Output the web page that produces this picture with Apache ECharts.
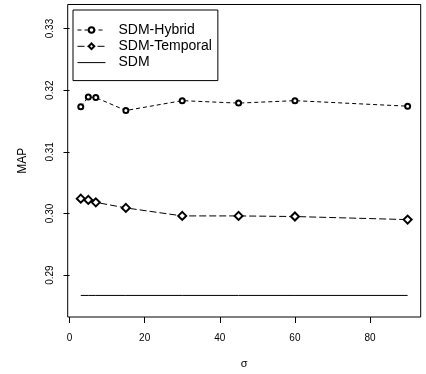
<!DOCTYPE html>
<html>
<head>
<meta charset="utf-8">
<script src="https://cdn.jsdelivr.net/npm/echarts@6/dist/echarts.min.js"></script>
<style>
  html, body { margin: 0; padding: 0; background: #fff; }
  #chart { width: 426px; height: 374px; }
</style>
</head>
<body>
<div id="chart"></div>
<script>
// sigma values (x axis)
const sigma = [3, 5, 7, 15, 30, 45, 60, 90];
// MAP values
const hybrid = [0.3173, 0.3189, 0.3188, 0.3167, 0.3183, 0.3179, 0.3183, 0.3174];
const temporal = [0.3024, 0.3022, 0.3018, 0.3009, 0.2996, 0.2996, 0.2995, 0.2990];
const sdm = [0.2867, 0.2867, 0.2867, 0.2867, 0.2867, 0.2867, 0.2867, 0.2867];
const xTicks = [0, 20, 40, 60, 80];
const yTicks = [0.29, 0.30, 0.31, 0.32, 0.33];

const pairs = (ys) => sigma.map((x, i) => [x, ys[i]]);

const chart = echarts.init(document.getElementById('chart'), null, { renderer: 'canvas' });

const font = 'Liberation Sans, Arial, sans-serif';

const option = {
  backgroundColor: '#fff',
  animation: false,
  textStyle: { fontFamily: font, color: '#000' },
  grid: {
    left: 67.7,
    top: 4.5,
    width: 353,
    height: 316.5,
    show: true,
    borderColor: '#000',
    borderWidth: 1,
    backgroundColor: 'transparent'
  },
  legend: {
    orient: 'vertical',
    left: 73,
    top: 10,
    padding: [13, 6, 11, 4],
    itemWidth: 28,
    itemHeight: 7,
    itemGap: 2.3,
    borderColor: '#000',
    borderWidth: 1,
    backgroundColor: '#fff',
    lineStyle: { width: 1 },
    itemStyle: { borderWidth: 0.7 },
    textStyle: { fontFamily: font, fontSize: 14, color: '#000', padding: [0, 0, 0, 8] },
    data: [
      { name: 'SDM-Hybrid' },
      { name: 'SDM-Temporal' },
      { name: 'SDM', icon: 'path://M0,0L28,0L28,1L0,1Z' }
    ]
  },
  xAxis: {
    type: 'value',
    min: -0.48,
    max: 93.48,
    name: 'σ',
    nameLocation: 'middle',
    nameGap: 41,
    nameTextStyle: { fontFamily: font, fontSize: 11, color: '#000' },
    axisLine: { show: false },
    splitLine: { show: false },
    axisTick: {
      show: true, inside: false, length: 6,
      customValues: xTicks,
      lineStyle: { color: '#000', width: 1 }
    },
    axisLabel: {
      customValues: xTicks,
      margin: 16,
      fontSize: 10,
      fontFamily: font,
      color: '#000'
    }
  },
  yAxis: {
    type: 'value',
    min: 0.2832,
    max: 0.3339,
    name: 'MAP',
    nameLocation: 'middle',
    nameRotate: 90,
    nameGap: 39,
    nameTextStyle: { fontFamily: font, fontSize: 12, color: '#000' },
    axisLine: { show: false },
    splitLine: { show: false },
    axisTick: {
      show: true, inside: false, length: 6,
      customValues: yTicks,
      lineStyle: { color: '#000', width: 1 }
    },
    axisLabel: {
      customValues: yTicks,
      rotate: 90,
      margin: 12,
      fontSize: 10,
      fontFamily: font,
      color: '#000',
      formatter: (v) => v.toFixed(2)
    }
  },
  series: [
    {
      name: 'SDM-Hybrid',
      type: 'line',
      data: pairs(hybrid),
      symbol: 'emptyCircle',
      symbolSize: 5,
      lineStyle: { color: '#000', width: 1, type: [4, 3] },
      itemStyle: { color: '#000', borderColor: '#000', borderWidth: 0.7 }
    },
    {
      name: 'SDM-Temporal',
      type: 'line',
      data: pairs(temporal),
      symbol: 'emptyDiamond',
      symbolSize: 8,
      lineStyle: { color: '#000', width: 1, type: [7, 3] },
      itemStyle: { color: '#000', borderColor: '#000', borderWidth: 0.7 }
    },
    {
      name: 'SDM',
      type: 'line',
      data: pairs(sdm),
      symbol: 'none',
      lineStyle: { color: '#000', width: 1, type: 'solid' },
      itemStyle: { color: '#000' }
    }
  ]
};

chart.setOption(option);
</script>
</body>
</html>
